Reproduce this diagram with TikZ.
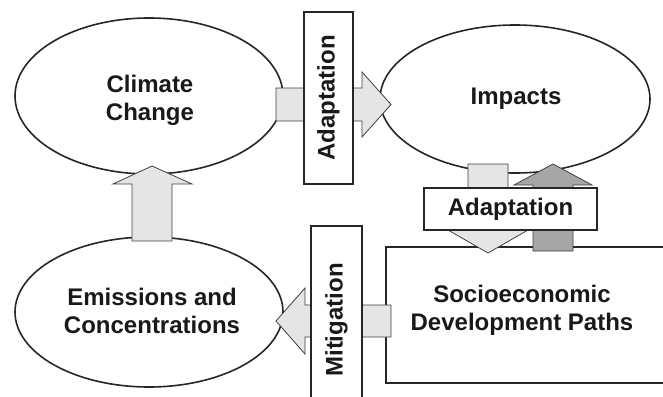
\documentclass[tikz,border=0pt]{standalone}
\usepackage{fontspec}
\setmainfont{Liberation Sans}
\begin{document}
\begin{tikzpicture}[x=1pt,y=-1pt,
  lbl/.style={font=\fontsize{24}{28}\selectfont\bfseries, align=center, text=black!90},
  oval/.style={draw=black!85, line width=1.6pt, fill=white},
  frame/.style={draw=black!85, line width=1.6pt, fill=white},
  fatlight/.style={draw=black!75, line width=0.8pt, fill=black!10, line join=miter},
  fatdark/.style={draw=black!75, line width=0.8pt, fill=black!35, line join=miter}]
\useasboundingbox (0,0) rectangle (663,396);
% ellipses
\draw[oval] (149,96) ellipse [x radius=134, y radius=78];
\node[lbl] (cc) at (150,100) {Climate\\Change};
\draw[oval] (515,99) ellipse [x radius=135, y radius=74];
\node[lbl] (imp) at (516,99) {Impacts};
\draw[oval] (149,312) ellipse [x radius=134, y radius=75];
\node[lbl] (em) at (152,311) {Emissions and\\Concentrations};
% socioeconomic box (open to the right)
\draw[frame] (670,247) -- (386,247) -- (386,383) -- (670,383);
\node[lbl] (soc) at (522,310) {Socioeconomic\\Development Paths};
% fat arrows
\draw[fatlight] (276,88) -- (362,88) -- (362,72) -- (391,104.5) -- (362,137) -- (362,121) -- (276,121) -- cycle;
\draw[fatlight] (132,241) -- (132,184) -- (113,184) -- (152,166) -- (192,184) -- (172,184) -- (172,241) -- cycle;
\draw[fatlight] (468,164) -- (508,164) -- (508,230) -- (528,230) -- (488,253) -- (448,230) -- (468,230) -- cycle;
\draw[fatdark] (533,251) -- (533,185) -- (514,185) -- (553,164) -- (592,185) -- (573,185) -- (573,251) -- cycle;
\draw[fatlight] (391,305) -- (305,305) -- (305,288) -- (276,321) -- (305,354) -- (305,337) -- (391,337) -- cycle;
% label boxes
\draw[frame] (304,12) rectangle (353,184);
\node[lbl, rotate=90] (ad1) at (328.5,98) {Adaptation};
\draw[frame] (424,188) rectangle (597,230);
\node[lbl] (ad2) at (510.5,209) {Adaptation};
\draw[frame] (311,400) -- (311,226) -- (362,226) -- (362,400);
\node[lbl, rotate=90] (mit) at (336.5,320) {Mitigation};
\end{tikzpicture}
\end{document}
